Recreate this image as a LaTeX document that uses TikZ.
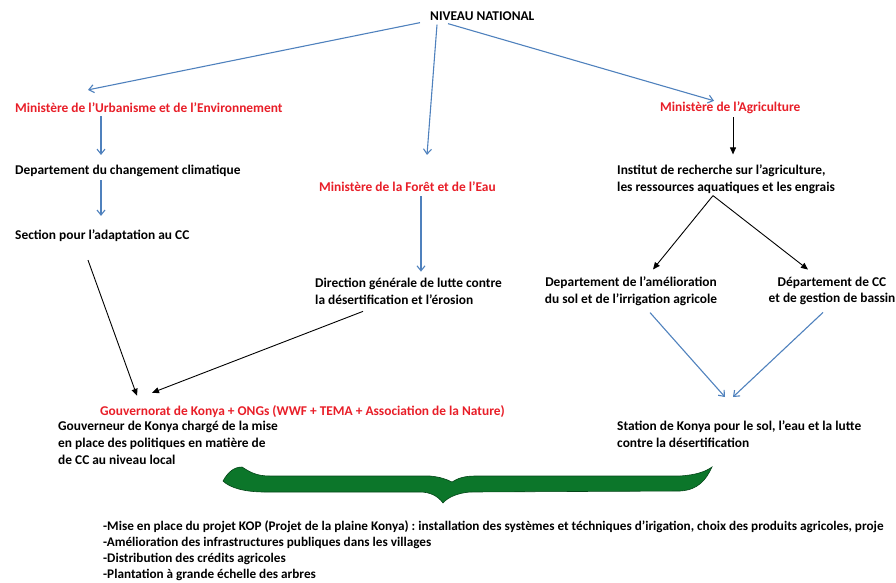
\documentclass[tikz,border=0pt]{standalone}
\usepackage{fontspec}
\setmainfont{Carlito}
\frenchspacing
\usetikzlibrary{arrows.meta,calc}
\definecolor{redtxt}{RGB}{232,30,40}
\definecolor{bluearr}{RGB}{79,129,189}
\definecolor{brgreen}{RGB}{12,118,42}
\definecolor{brdark}{RGB}{5,70,25}
\begin{document}
\begin{tikzpicture}[x=1pt,y=-1pt,
  lbl/.style={inner sep=0pt,anchor=west,font=\fontsize{13.4}{16.8}\selectfont\bfseries,align=left},
  redlbl/.style={lbl,text=redtxt},
  barr/.style={draw=bluearr,line width=1.1pt,-{Straight Barb[length=5pt,width=8pt]}},
  karr/.style={draw=black,line width=0.9pt,-{Triangle[length=7pt,width=6pt]}}]
\useasboundingbox (0,0) rectangle (896,582);
\clip (0,0) rectangle (896,582);
% nodes
\node[lbl] (nat) at (430,16) {NIVEAU NATIONAL};
\node[redlbl] (urb) at (15,108) {Ministère de l’Urbanisme et de l’Environnement};
\node[lbl] (dcc) at (15,171) {Departement du changement climatique};
\node[lbl] (sec) at (15,236) {Section pour l’adaptation au CC};
\node[redlbl] (foret) at (319,187) {Ministère de la Forêt et de l’Eau};
\node[lbl] (dir) at (315,291) {Direction générale de lutte contre\\la désertification et l’érosion};
\node[redlbl] (agri) at (660,108) {Ministère de l’Agriculture};
\node[lbl] (inst) at (617,179) {Institut de recherche sur l’agriculture,\\les ressources aquatiques et les engrais};
\node[lbl,anchor=center,align=center] (amel) at (631,291) {Departement de l’amélioration\\du sol et de l’irrigation agricole};
\node[lbl,anchor=center,align=center] (dccb) at (832,291) {Département de CC\\et de gestion de bassin};
\node[redlbl] (gouv) at (100,412) {Gouvernorat de Konya + ONGs (WWF + TEMA + Association de la Nature)};
\node[lbl,anchor=north west] (gouvr) at (58,421) {Gouverneur de Konya chargé de la mise\\en place des politiques en matière de\\de CC au niveau local};
\node[lbl,anchor=north west] (station) at (617,421) {Station de Konya pour le sol, l’eau et la lutte\\contre la désertification};
\node[lbl,anchor=north west,font=\fontsize{13.2}{16}\selectfont\bfseries] (bul) at (103,520) {-Mise en place du projet KOP (Projet de la plaine Konya) : installation des systèmes et téchniques d’irigation, choix des produits agricoles, proje\\-Amélioration des infrastructures publiques dans les villages\\-Distribution des crédits agricoles\\-Plantation à grande échelle des arbres};
% connectors
\draw[barr] ($(nat.south west)+(-10,2)$) -- ($(urb.north west)+(73,-13)$);
\draw[barr] ($(nat.south west)+(7,4)$) -- ($(foret.north west)+(108,-27)$);
\draw[barr] ($(nat.south west)+(18,3)$) -- ($(agri.north west)+(54,-1)$);
\draw[barr] ($(urb.south west)+(86,3)$) -- ($(dcc.north west)+(86,-10)$);
\draw[barr] ($(dcc.south west)+(86,3)$) -- ($(sec.north west)+(86,-14)$);
\draw[karr] ($(sec.south west)+(73,18)$) -- ($(gouv.north west)+(37,-10)$);
\draw[barr] ($(foret.south west)+(102,4)$) -- ($(dir.north west)+(106,-6)$);
\draw[karr] ($(dir.south west)+(48,7)$) -- ($(gouv.north west)+(52,-13)$);
\draw[karr] ($(agri.south west)+(73,3)$) -- ($(inst.north west)+(116,-10)$);
\draw[karr] ($(inst.south west)+(96,2)$) -- ($(amel.north)+(22,-7)$);
\draw[karr] ($(inst.south west)+(96,2)$) -- ($(dccb.north)+(-24,-7)$);
\draw[barr] ($(amel.south)+(19,7)$) -- ($(station.north west)+(108,-24)$);
\draw[barr] ($(dccb.south)+(-9,7)$) -- ($(station.north west)+(116,-24)$);
% brace
\fill[brgreen,draw=brdark,line width=0.6pt]
  (223,481) .. controls (228,472) and (234,467) .. (242,467)
  .. controls (250,472) and (256,476) .. (270,476)
  -- (430,476)
  .. controls (440,477) and (446,479) .. (452,482)
  .. controls (458,478) and (465,476) .. (475,476)
  -- (680,476)
  .. controls (695,475) and (705,472) .. (712,467)
  .. controls (706,480) and (698,490) .. (680,491)
  -- (470,492)
  .. controls (458,493) and (448,497) .. (443,503)
  .. controls (438,496) and (430,492) .. (420,492)
  -- (265,492)
  .. controls (245,492) and (230,488) .. (223,481) -- cycle;
\end{tikzpicture}
\end{document}
